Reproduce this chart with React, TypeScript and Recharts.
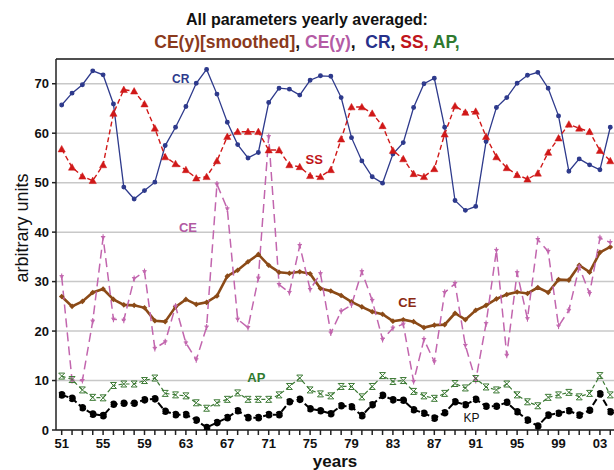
import React from 'react';
import { LineChart, Line, XAxis, YAxis, CartesianGrid, ReferenceLine, ReferenceDot } from 'recharts';

const years = [
  1951, 1952, 1953, 1954, 1955, 1956, 1957, 1958, 1959, 1960,
  1961, 1962, 1963, 1964, 1965, 1966, 1967, 1968, 1969, 1970,
  1971, 1972, 1973, 1974, 1975, 1976, 1977, 1978, 1979, 1980,
  1981, 1982, 1983, 1984, 1985, 1986, 1987, 1988, 1989, 1990,
  1991, 1992, 1993, 1994, 1995, 1996, 1997, 1998, 1999, 2000,
  2001, 2002, 2003, 2004,
];

const crValues = [
  65.7, 68.1, 69.8, 72.6, 71.8, 65.9, 49.1, 46.7, 48.4, 50.1,
  57.5, 61.2, 65.4, 70.1, 72.9, 67.9, 62.2, 57.7, 55.0, 56.1,
  66.2, 69.1, 68.9, 67.7, 70.7, 71.6, 71.5, 67.2, 59.1, 54.4,
  51.2, 49.9, 55.8, 58.1, 65.2, 70.0, 71.1, 61.2, 46.4, 44.4,
  45.2, 58.3, 65.2, 67.2, 70.1, 71.7, 72.3, 69.1, 63.5, 52.3,
  54.8, 53.6, 52.6, 61.2,
];

const ssValues = [
  56.8, 53.1, 51.3, 50.4, 53.6, 64.0, 68.8, 68.5, 65.9, 61.0,
  55.2, 53.8, 52.6, 50.9, 51.2, 54.4, 59.3, 60.3, 60.3, 60.3,
  56.6, 56.6, 53.6, 53.2, 51.4, 51.2, 52.6, 58.8, 65.3, 65.3,
  64.0, 61.5, 56.5, 54.8, 51.8, 51.2, 52.8, 59.8, 65.5, 64.2,
  64.4, 59.3, 55.2, 53.0, 51.6, 50.7, 51.9, 56.1, 59.0, 61.8,
  61.0, 60.3, 56.5, 54.4,
];

const ceYearly = [
  31.0, 10.0, 10.0, 22.0, 38.9, 22.4, 22.2, 30.6, 32.0, 16.5,
  17.8, 25.0, 17.6, 14.2, 20.8, 49.7, 44.7, 22.4, 20.7, 30.7,
  59.3, 29.4, 27.8, 37.3, 28.4, 31.6, 19.6, 24.0, 25.3, 32.0,
  26.2, 18.3, 20.6, 21.4, 9.8, 18.3, 13.8, 27.8, 29.6, 17.1,
  10.0, 21.5, 36.3, 15.1, 31.8, 22.5, 38.5, 36.1, 21.0, 24.2,
  32.9, 27.6, 38.8, 37.9,
];

const ceSmoothed = [
  27.0, 25.0, 26.0, 27.8, 28.5, 26.4, 25.3, 25.2, 24.7, 22.1,
  21.9, 24.9, 26.4, 25.4, 25.8, 27.1, 31.1, 32.3, 34.0, 35.5,
  33.3, 31.9, 31.7, 32.0, 31.6, 28.6, 28.1, 27.2, 25.9, 24.9,
  23.9, 23.4, 22.0, 22.3, 21.9, 20.7, 21.2, 21.3, 23.6, 22.3,
  24.2, 25.2, 26.5, 27.4, 27.9, 27.6, 28.8, 27.8, 30.4, 30.3,
  33.3, 31.9, 35.9, 37.0,
];

const apValues = [
  10.9, 10.2, 8.1, 6.6, 6.5, 9.0, 9.3, 9.3, 10.0, 10.5,
  7.4, 7.1, 6.9, 5.5, 4.4, 5.5, 6.2, 7.5, 6.2, 6.2,
  6.2, 7.1, 8.8, 10.5, 8.1, 7.3, 6.9, 8.8, 8.8, 6.7,
  8.8, 11.0, 9.8, 10.0, 7.8, 6.9, 6.4, 7.4, 9.4, 8.5,
  10.4, 8.7, 8.1, 9.3, 7.1, 5.7, 4.9, 6.6, 7.1, 7.6,
  6.7, 7.4, 11.0, 7.1,
];

const kpValues = [
  7.1, 6.4, 4.5, 3.2, 2.9, 5.2, 5.4, 5.4, 6.1, 6.3,
  3.8, 3.1, 3.1, 2.0, 0.5, 1.5, 2.5, 3.9, 2.5, 2.5,
  3.1, 3.1, 5.7, 6.2, 4.3, 3.9, 3.3, 4.9, 4.7, 2.9,
  5.1, 7.0, 6.1, 6.0, 4.1, 3.4, 2.4, 3.5, 5.7, 5.1,
  6.2, 4.8, 4.8, 5.6, 3.7, 2.0, 0.8, 3.0, 3.4, 3.9,
  3.0, 4.0, 7.3, 3.7,
];

const yTicks = [0, 10, 20, 30, 40, 50, 60, 70];

const seriesLabels = [
  { year: 1962.5, value: 71.0, text: 'CR', color: '#2e3a8c', size: 12, weight: 'bold' },
  { year: 1975.4, value: 54.8, text: 'SS', color: '#c0151b', size: 13, weight: 'bold' },
  { year: 1963.2, value: 40.9, text: 'CE', color: '#b25aa2', size: 13, weight: 'bold' },
  { year: 1984.4, value: 25.8, text: 'CE', color: '#8b2a14', size: 13, weight: 'bold' },
  { year: 1969.8, value: 10.7, text: 'AP', color: '#2f7a2f', size: 13, weight: 'bold' },
  { year: 1990.6, value: 2.4, text: 'KP', color: '#111111', size: 12, weight: 'normal' },
];

const data = years.map((y, i) => ({
  year: y,
  cr: crValues[i],
  ss: ssValues[i],
  ce: ceYearly[i],
  ces: ceSmoothed[i],
  ap: apValues[i],
  kp: kpValues[i],
}));

const C_CR = '#2e3a8c';
const C_SS = '#d01818';
const C_CE = '#c266ae';
const C_CES = '#8b4a17';
const C_AP = '#3d7a35';
const C_KP = '#000000';

const triDot = (p: any) => {
  const { cx, cy, index } = p;
  if (cx == null || cy == null) return <g key={`t${index}`} />;
  const s = 3.6;
  return (
    <polygon key={`t${index}`} points={`${cx},${cy - s} ${cx - s},${cy + s * 0.8} ${cx + s},${cy + s * 0.8}`} fill={C_SS} stroke={C_SS} strokeWidth={0.5} />
  );
};

const starDot = (p: any) => {
  const { cx, cy, index } = p;
  if (cx == null || cy == null) return <g key={`s${index}`} />;
  return (
    <g key={`s${index}`} stroke={C_CE} strokeWidth={1.1}>
      <line x1={cx} y1={cy - 3.2} x2={cx} y2={cy + 3} />
      <line x1={cx - 2.2} y1={cy - 1} x2={cx + 2.2} y2={cy - 1} />
      <circle cx={cx} cy={cy} r={1.4} fill={C_CE} stroke="none" />
    </g>
  );
};

const diamondDot = (p: any) => {
  const { cx, cy, index } = p;
  if (cx == null || cy == null) return <g key={`d${index}`} />;
  const s = 2.8;
  return (
    <polygon key={`d${index}`} points={`${cx},${cy - s} ${cx + s},${cy} ${cx},${cy + s} ${cx - s},${cy}`} fill={C_CES} />
  );
};

const xDot = (p: any) => {
  const { cx, cy, index } = p;
  if (cx == null || cy == null) return <g key={`x${index}`} />;
  const s = 3;
  return (
    <g key={`x${index}`} stroke={C_AP} strokeWidth={1}>
      <line x1={cx - s} y1={cy - s} x2={cx + s} y2={cy + s} />
      <line x1={cx - s} y1={cy + s} x2={cx + s} y2={cy - s} />
      <line x1={cx - s} y1={cy - s} x2={cx + s} y2={cy - s} />
      <line x1={cx - s} y1={cy + s} x2={cx + s} y2={cy + s} />
    </g>
  );
};

const fmtYear = (v: number) => ((v - 1951) % 4 === 0 ? String(v % 100).padStart(2, '0') : '');

export default function App() {
  const font = "'Liberation Sans', Arial, sans-serif";
  return (
    <div style={{ position: 'absolute', left: 0, top: 0, width: 614, height: 470, background: '#fff', fontFamily: font, overflow: 'hidden' }}>
      <div style={{ position: 'absolute', left: 0, top: 10, width: 614, textAlign: 'center', fontSize: 16, fontWeight: 'bold', color: '#111', lineHeight: '20px' }}>
        All parameters yearly averaged:
      </div>
      <div style={{ position: 'absolute', left: 0, top: 32, width: 614, textAlign: 'center', fontSize: 17.5, fontWeight: 'bold', lineHeight: '20px', whiteSpace: 'pre' }}>
        <span style={{ color: '#8b3a1c' }}>CE(y)[smoothed]</span>
        <span style={{ color: '#111' }}>, </span>
        <span style={{ color: '#b45ba5' }}>CE(y)</span>
        <span style={{ color: '#111' }}>,  </span>
        <span style={{ color: '#27318a' }}>CR</span>
        <span style={{ color: '#111' }}>, </span>
        <span style={{ color: '#c0151b' }}>SS, </span>
        <span style={{ color: '#2f7a2f' }}>AP,</span>
      </div>
      <div style={{ position: 'absolute', left: 22, top: 228, width: 0, height: 0 }}>
        <div style={{ position: 'absolute', transform: 'translate(-50%, -50%) rotate(-90deg)', whiteSpace: 'nowrap', fontSize: 18, color: '#111' }}>
          arbitrary units
        </div>
      </div>
      <div style={{ position: 'absolute', left: 0, top: 453, width: 614, paddingLeft: 56, boxSizing: 'border-box', textAlign: 'center', fontSize: 17, fontWeight: 'bold', color: '#111', lineHeight: '17px' }}>
        years
      </div>
      <div style={{ position: 'absolute', left: 0, top: 0 }}>
        <LineChart width={614} height={470} data={data} margin={{ top: 59, right: 0, bottom: 0, left: 0 }}>
          <CartesianGrid vertical={false} stroke="#c8c8c8" strokeWidth={1.5} />
          <ReferenceLine y={75} stroke="#222" strokeWidth={1.5} />
          <XAxis
            dataKey="year"
            type="number"
            domain={[1950.45, 2004.36]}
            ticks={years}
            interval={0}
            tickFormatter={fmtYear}
            height={40}
            tickSize={5}
            tickMargin={4}
            stroke="#222"
            strokeWidth={1.5}
            tick={{ fontSize: 13, fontWeight: 'bold', fill: '#111', fontFamily: font }}
            allowDataOverflow
          />
          <YAxis
            type="number"
            domain={[0, 75]}
            ticks={yTicks}
            width={56}
            tickSize={4}
            tickMargin={3}
            stroke="#222"
            strokeWidth={1.5}
            tick={{ fontSize: 13, fontWeight: 'bold', fill: '#111', fontFamily: font }}
            allowDataOverflow
          />
          <Line dataKey="cr" stroke={C_CR} strokeWidth={1.3} dot={{ r: 1.8, fill: C_CR, stroke: C_CR }} isAnimationActive={false} />
          <Line dataKey="ss" stroke={C_SS} strokeWidth={1.4} strokeDasharray="5 3" dot={triDot} isAnimationActive={false} />
          <Line dataKey="ces" stroke={C_CES} strokeWidth={2.6} dot={diamondDot} isAnimationActive={false} />
          <Line dataKey="ce" stroke={C_CE} strokeWidth={1.5} strokeDasharray="9 5" dot={starDot} isAnimationActive={false} />
          <Line dataKey="ap" stroke={C_AP} strokeWidth={1.2} strokeDasharray="4 3" dot={xDot} isAnimationActive={false} />
          <Line dataKey="kp" stroke={C_KP} strokeWidth={2} strokeDasharray="7 3" dot={{ r: 2.8, fill: C_KP, stroke: C_KP }} isAnimationActive={false} />
          {seriesLabels.map((l, i) => (
            <ReferenceDot
              key={i}
              x={l.year}
              y={l.value}
              r={0}
              fill="none"
              stroke="none"
              label={{ value: l.text, position: 'center', fill: l.color, fontSize: l.size, fontWeight: l.weight, fontFamily: font }}
            />
          ))}
        </LineChart>
      </div>
    </div>
  );
}
